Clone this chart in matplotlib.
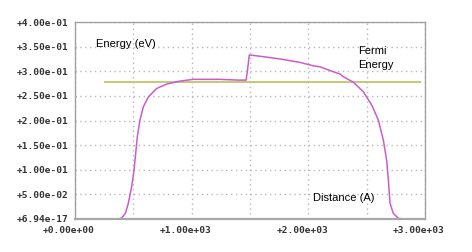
import matplotlib
matplotlib.use("Agg")
from matplotlib import pyplot as plt
from matplotlib.transforms import ScaledTranslation

# Band energy profile
distance = [257, 371, 400, 432, 457, 486, 506, 520, 534, 557, 586, 629, 700,
            786, 900, 1014, 1243, 1400, 1466, 1477, 1494, 1500, 1614, 1757,
            1929, 2043, 2100, 2157, 2214, 2271, 2300, 2386, 2471, 2543, 2600,
            2643, 2671, 2686, 2700, 2728, 2771, 2810, 2983]
energy = [0.0, 0.0, 0.002, 0.0116, 0.032, 0.066, 0.0995, 0.133, 0.167, 0.201,
          0.228, 0.248, 0.265, 0.274, 0.280, 0.2836, 0.2836, 0.282, 0.282,
          0.299, 0.333, 0.333, 0.3296, 0.325, 0.318, 0.311, 0.309, 0.304,
          0.299, 0.2944, 0.289, 0.2776, 0.2585, 0.2315, 0.201, 0.160, 0.120,
          0.079, 0.032, 0.0116, 0.0014, 0.0, 0.0]

# Fermi level
fermi_x = [257, 2957]
fermi_y = [0.2788, 0.2788]

x_ticks = [0, 1000, 2000, 3000]
x_labels = ["+0.00e+00", "+1.00e+03", "+2.00e+03", "+3.00e+03"]
y_ticks = [0.0, 0.05, 0.10, 0.15, 0.20, 0.25, 0.30, 0.35, 0.40]
y_labels = ["+6.94e-17", "+5.00e-02", "+1.00e-01", "+1.50e-01", "+2.00e-01",
            "+2.50e-01", "+3.00e-01", "+3.50e-01", "+4.00e-01"]

fig = plt.figure(figsize=(4.72, 2.52), dpi=100)
ax = fig.add_axes([75 / 472, 1 - 219 / 252, 350 / 472, 197 / 252])

ax.plot(fermi_x, fermi_y, color="#c8c87a", linewidth=1.5)
ax.plot(distance, energy, color="#cc5ccc", linewidth=1.1)

ax.set_xlim(0, 3000)
ax.set_ylim(0, 0.4)

# dotted grid every 500 in x and 0.05 in y
ax.set_xticks(range(0, 3001, 500), minor=True)
ax.set_xticks(x_ticks)
ax.set_yticks(y_ticks)
ax.grid(which="both", color="#b8b8b8", linestyle=(0, (1, 2.5)), linewidth=1)
ax.set_axisbelow(True)

mono = dict(family="DejaVu Sans Mono", size=6.8, weight="bold", color="#333333")
ax.set_xticklabels(x_labels, **mono)
ax.set_yticklabels(y_labels, **mono)
ax.tick_params(axis="both", which="both", length=0)
ax.tick_params(axis="x", pad=5)
ax.tick_params(axis="y", pad=5)
shift = ScaledTranslation(-6 / 100, 0, fig.dpi_scale_trans)
for lbl in ax.get_xticklabels():
    lbl.set_transform(lbl.get_transform() + shift)

for side in ["left", "right", "top"]:
    ax.spines[side].set_color("#a0a0a0")
    ax.spines[side].set_linewidth(1)
ax.spines["bottom"].set_color("#a8a8a8")
ax.spines["bottom"].set_linewidth(1.6)

txt = dict(family="Liberation Sans", size=8, color="black")
ax.text(180, 0.355, "Energy (eV)", va="center", ha="left", **txt)
ax.text(2425, 0.341, "Fermi", va="center", ha="left", **txt)
ax.text(2425, 0.312, "Energy", va="center", ha="left", **txt)
ax.text(2040, 0.043, "Distance (A)", va="center", ha="left", **txt)

fig.savefig("out.png", dpi=100)
